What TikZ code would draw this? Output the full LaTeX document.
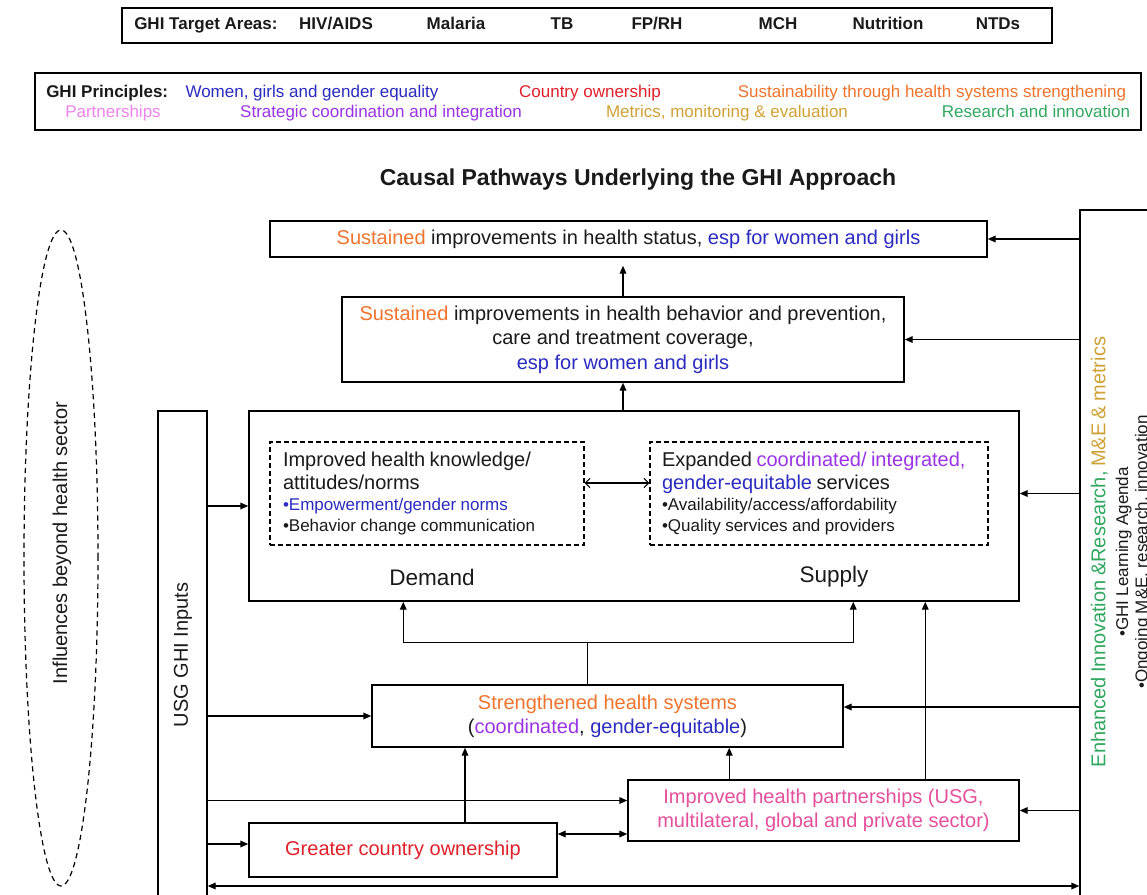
\documentclass[tikz,border=0pt]{standalone}
\usepackage{fontspec}
\setmainfont{Liberation Sans}
\usetikzlibrary{arrows.meta,shapes.geometric,calc}
\definecolor{txt}{HTML}{1A1A1A}
\definecolor{orangeT}{HTML}{F0742C}
\definecolor{blueT}{HTML}{2B2BC0}
\definecolor{redT}{HTML}{E0202A}
\definecolor{pinkT}{HTML}{E4509C}
\definecolor{violetT}{HTML}{EE84EE}
\definecolor{purpleT}{HTML}{9A34E6}
\definecolor{goldT}{HTML}{CFA235}
\definecolor{greenT}{HTML}{30A860}
\begin{document}
\begin{tikzpicture}[x=0.75pt,y=-0.75pt,
  every node/.style={text=txt},
  box/.style={draw=black,line width=1.1pt,inner sep=0pt,align=center},
  dbox/.style={draw=black,line width=0.9pt,dash pattern=on 3.5pt off 2.5pt,inner sep=0pt},
  arr/.style={-{Triangle[length=6pt,width=5pt]},line width=1.1pt},
  darr/.style={{Triangle[length=6pt,width=5pt]}-{Triangle[length=6pt,width=5pt]},line width=1.1pt},
  ln/.style={line width=1.1pt},
  mainf/.style={font=\fontsize{15}{18}\selectfont},
  tbold/.style={font=\bfseries\fontsize{12.75}{15}\selectfont,text height=9.2pt,text depth=2.6pt,inner sep=0pt},
  pf/.style={font=\fontsize{12.75}{15}\selectfont,text height=9.2pt,text depth=2.6pt,inner sep=0pt},
  lab/.style={font=\fontsize{16.9}{20}\selectfont,inner sep=0pt},
  rot/.style={rotate=90,font=\fontsize{15}{18}\selectfont,inner sep=0pt}
]
\useasboundingbox (0,0) rectangle (1147,894);
\fill[white] (0,0) rectangle (1147,894);
\clip (0,0) rectangle (1147,894);

% target areas
\node[box,minimum width=697.5pt,minimum height=26.25pt] (tgt) at (587,25.5) {};
\node[tbold,anchor=west] (tgtlab) at (134,25.5) {GHI Target Areas:};
\node[tbold] (hiv) at (336,25.5) {HIV/AIDS};
\node[tbold] (mal) at (456,25.5) {Malaria};
\node[tbold] (tb) at (562,25.5) {TB};
\node[tbold] (fprh) at (657,25.5) {FP/RH};
\node[tbold] (mch) at (778,25.5) {MCH};
\node[tbold] (nut) at (888,25.5) {Nutrition};
\node[tbold] (ntd) at (998,25.5) {NTDs};

% principles
\node[box,minimum width=829.5pt,minimum height=42.75pt] (prin) at (588,101.5) {};
\node[tbold,anchor=west] (prlab) at (46,93) {GHI Principles:};
\node[pf,text=blueT] (p1) at (312,93) {Women, girls and gender equality};
\node[pf,text=redT] (p2) at (590,93) {Country ownership};
\node[pf,text=orangeT] (p3) at (932,93) {Sustainability through health systems strengthening};
\node[pf,text=violetT] (p4) at (113,113) {Partnerships};
\node[pf,text=purpleT] (p5) at (381,113) {Strategic coordination and integration};
\node[pf,text=goldT] (p6) at (727,113) {Metrics, monitoring \& evaluation};
\node[pf,text=greenT] (p7) at (1036,113) {Research and innovation};

% title
\node[font=\bfseries\fontsize{17.25}{20}\selectfont,inner sep=0pt] (title) at (638,180) {Causal Pathways Underlying the GHI Approach};

% outcome boxes
\node[box,mainf,minimum width=537.75pt,minimum height=27pt] (A) at (628.5,239)
  {\textcolor{orangeT}{Sustained} improvements in health status, \textcolor{blueT}{esp for women and girls}};
\node[box,font=\fontsize{15}{18.4}\selectfont,minimum width=421.5pt,minimum height=63.75pt] (B) at (623,339.5)
  {\textcolor{orangeT}{Sustained} improvements in health behavior and prevention,\\care and treatment coverage,\\\textcolor{blueT}{esp for women and girls}};

% demand / supply box
\node[box,minimum width=577.5pt,minimum height=142.5pt] (C) at (634,506) {};
\node[dbox,minimum width=235.5pt,minimum height=77.25pt,text width=216pt,inner xsep=9.75pt,align=left] (D1) at (427,493.5)
  {{\fontsize{15}{17.25}\selectfont Improved health knowledge/\\attitudes/norms\par}%
   {\fontsize{12.75}{16}\selectfont\textcolor{blueT}{•Empowerment/gender norms}\\•Behavior change communication\par}};
\node[dbox,minimum width=253.5pt,minimum height=77.25pt,text width=235.5pt,inner xsep=9pt,align=left] (D2) at (819,493.5)
  {{\fontsize{15}{17.25}\selectfont Expanded \textcolor{purpleT}{coordinated/ integrated,}\\\textcolor{blueT}{gender-equitable} services\par}%
   {\fontsize{12.75}{16}\selectfont •Availability/access/affordability\\•Quality services and providers\par}};
\node[lab] (dem) at (432,577) {Demand};
\node[lab] (sup) at (834,577) {Supply};

% side elements
\node[ellipse,draw=black,line width=0.9pt,dash pattern=on 4pt off 3pt,minimum width=55.5pt,minimum height=492pt,inner sep=0pt] (infl) at (61,558) {};
\node[rot] (inflt) at (62,543) {Influences beyond health sector};
\node[box,minimum width=36.75pt,minimum height=366.75pt] (usg) at (182.5,655.5) {};
\node[rot] (usgt) at (183,655) {USG GHI Inputs};
\node[box,minimum width=60pt,minimum height=517.5pt] (R) at (1120,555) {};
\node[rotate=90,inner sep=0pt,text width=360pt,align=center] (rtxt) at (1121,552)
  {{\fontsize{15}{17}\selectfont\textcolor{greenT}{Enhanced Innovation \&Research,} \textcolor{goldT}{M\&E \& metrics}\par}%
   {\fontsize{12.75}{17}\selectfont •GHI Learning Agenda\par}%
   {\fontsize{12.75}{14.5}\selectfont •Ongoing M\&E, research, innovation\par}};

% lower boxes
\node[box,font=\fontsize{15}{18}\selectfont,minimum width=353.25pt,minimum height=46.5pt] (E) at (607.5,716)
  {\textcolor{orangeT}{Strengthened health systems}\\(\textcolor{purpleT}{coordinated}, \textcolor{blueT}{gender-equitable})};
\node[box,font=\fontsize{15}{18}\selectfont,text=pinkT,minimum width=293.25pt,minimum height=45.75pt] (F) at (823.5,810.5)
  {Improved health partnerships (USG,\\multilateral, global and private sector)};
\node[box,mainf,text=redT,minimum width=231pt,minimum height=40.5pt] (G) at (403,850) {Greater country ownership};

% anchor points
\coordinate (Fin) at ([yshift=7.5pt]F.west);
\coordinate (Gin) at ([yshift=4.5pt]G.west);
\coordinate (Gout) at ([yshift=12pt]G.east);
\coordinate (Ein) at ([yshift=6.75pt]E.east);
\coordinate (Gtop) at ([xshift=46.5pt]G.north);
\coordinate (Ftop1) at ($(F.north west)+(102,0)$);
\coordinate (Ftop2) at ($(F.north west)+(298,0)$);
\coordinate (Cdem) at ($(C.south west)+(155,0)$);
\coordinate (Csup) at ($(C.south west)+(605,0)$);
\coordinate (bot) at (0,886);

% connectors
\draw[arr,shorten >=6pt] (B.north) -- (B.north |- A.south);
\draw[arr] (B.south |- C.north) -- (B.south);
\draw[{Straight Barb[length=3.5pt,width=7pt]}-{Straight Barb[length=3.5pt,width=7pt]},line width=0.8pt]
  ([yshift=7.875pt]D1.east) -- ([yshift=7.875pt]D2.west);

\draw[ln] ([xshift=-15pt]E.north) -- ++(0,-42) coordinate (brc);
\draw[arr] (brc) -| (Cdem);
\draw[arr] (brc) -| (Csup);
\draw[arr] (Gtop) -- (Gtop |- E.south);
\draw[arr] (Ftop1) -- (Ftop1 |- E.south);
\draw[arr] (Ftop2) -- (Ftop2 |- C.south);

% from USG inputs
\draw[arr] (usg.east |- C.west) -- (C.west);
\draw[arr] (usg.east |- E.west) -- (E.west);
\draw[arr] (usg.east |- Fin) -- (Fin);
\draw[arr] (usg.east |- Gin) -- (Gin);
\draw[darr] (Gout) -- (Gout -| F.west);

% from right box
\draw[arr] (R.west |- A.east) -- (A.east);
\draw[arr] (R.west |- B.east) -- (B.east);
\draw[arr] (R.west |- D2.east) -- (C.east |- D2.east);
\draw[arr] (R.west |- Ein) -- (Ein);
\draw[arr] (R.west |- F.east) -- (F.east);

\draw[darr] (usg.east |- bot) -- (R.west |- bot);
\end{tikzpicture}
\end{document}
